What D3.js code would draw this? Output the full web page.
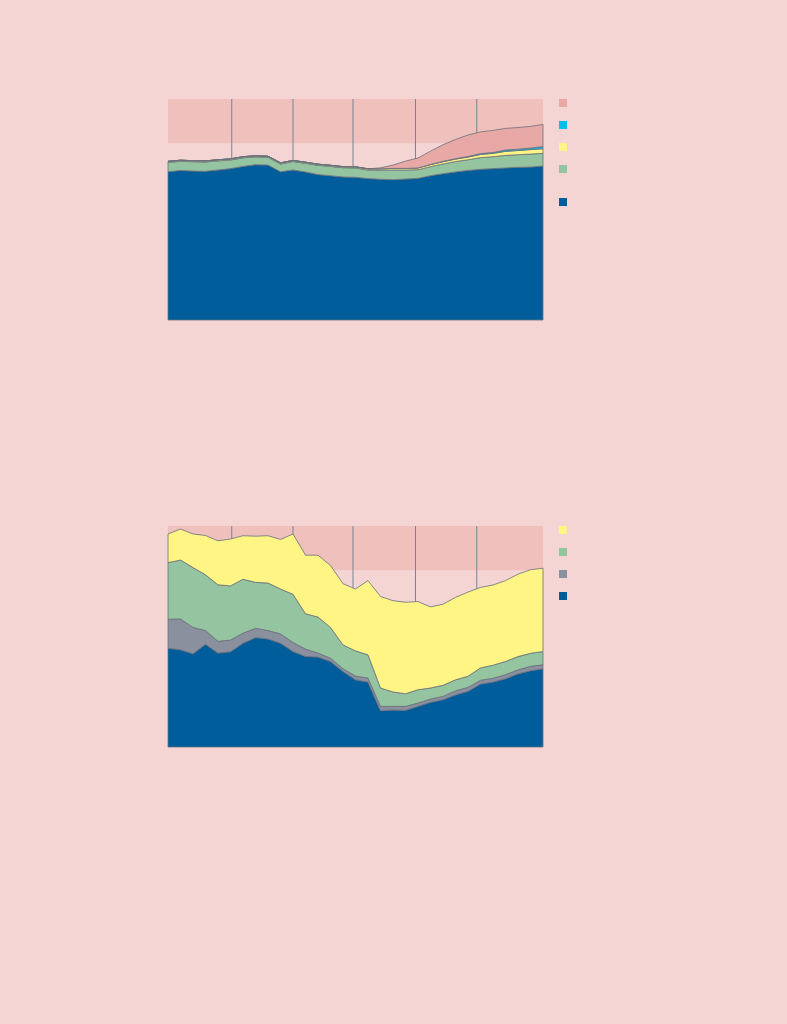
<!DOCTYPE html>
<html>
<head>
    <title>Stacked areas</title>
    <script src="https://cdnjs.cloudflare.com/ajax/libs/d3/7.8.5/d3.min.js"></script>
    <style>
        body { margin: 0; background: #f4d5d3; }
        svg { display: block; }
    </style>
</head>
<body>
<div id="chart"></div>
<script>
// ---------------- DATA ----------------
var years = d3.range(1980, 2011);
// grid lines sit a touch left of the data years in the original
var gridYears = [1985.1, 1990.0, 1994.8, 1999.8, 2004.7];

// chart 1 (shares, %)
var top1Blue   = [67.1,67.7,67.4,67.3,67.9,68.5,69.5,70.3,70.1,67.1,67.9,67.0,65.8,65.3,64.7,64.6,64.0,63.7,63.5,63.8,64.1,65.3,66.2,67.0,67.7,68.2,68.5,68.8,69.1,69.2,69.7];
var top1Green  = [4.2,4.1,4.2,4.2,4.1,3.9,3.9,3.5,3.5,3.5,3.8,3.9,4.2,4.2,4.2,4.2,3.8,4.1,4.4,4.1,3.9,4.1,4.4,4.7,4.8,5.3,5.4,5.7,5.7,5.9,5.7];
var top1Yellow = [0.5,0.5,0.5,0.5,0.5,0.5,0.5,0.5,0.5,0.5,0.5,0.5,0.5,0.5,0.5,0.5,0.6,0.6,0.7,0.7,0.8,0.9,1.0,1.1,1.2,1.4,1.5,1.8,1.9,2.0,2.1];
var top1Cyan   = [0,0,0,0,0,0,0,0,0,0,0,0,0,0,0,0,0,0,0,0,0,0.1,0.2,0.2,0.3,0.4,0.4,0.6,0.6,0.7,1.0];
var top1Pink   = [0,0,0,0,0,0,0,0,0,0,0,0,0,0,0,0,0,0.45,1.5,3.3,4.5,6.0,7.5,8.7,9.7,9.8,10.0,9.8,9.8,9.8,10.0];

// chart 2 (shares, %)
var top2Blue   = [44.7,44.0,42.2,46.5,42.5,43.1,47.0,49.5,48.9,47.0,43.2,41.0,40.7,38.7,34.2,30.4,29.4,16.4,16.7,16.6,18.4,20.2,21.4,23.6,25.2,28.5,29.4,30.9,33.1,34.5,35.4];
var top2Grey   = [13.1,13.9,11.9,6.2,5.3,5.3,4.5,4.2,3.8,4.2,4.1,3.3,1.8,1.5,1.2,1.7,1.8,2.0,1.7,1.8,1.5,1.5,1.5,1.8,1.8,1.7,1.7,1.8,1.8,2.0,1.8];
var top2Green  = [25.6,26.7,27.1,25.2,25.6,24.5,24.4,20.8,21.5,20.3,21.8,16.0,16.3,13.9,10.8,11.4,10.5,8.3,6.5,5.7,6.0,5.0,5.0,5.0,5.0,5.6,5.9,6.0,6.0,5.9,6.0];
var top2Yellow = [13.0,14.0,15.2,17.8,19.9,21.2,19.7,20.9,21.4,22.4,27.3,26.5,28.0,28.0,27.7,28.0,33.6,41.4,41.3,41.4,39.9,36.7,36.7,37.3,38.1,36.4,36.3,36.6,37.3,37.8,37.7];

var colors = {
    blue: "#005d9c", green: "#94c5a0", yellow: "#fff584",
    cyan: "#00bdef", pink: "#e8a9a6", grey: "#8a909e"
};

// ---------------- LAYOUT ----------------
var svg = d3.select("#chart").append("svg")
    .attr("width", 787)
    .attr("height", 1024);

svg.append("rect").attr("width", 787).attr("height", 1024).attr("fill", "#f4d5d3");

function drawPanel(top, keys, series, legendYs) {
    var left = 168, width = 375, height = 221;
    var g = svg.append("g").attr("transform", "translate(" + left + "," + top + ")");

    var x = d3.scaleLinear().domain([years[0], years[years.length - 1]]).range([0, width]);
    var y = d3.scaleLinear().domain([0, 100]).range([height, 0]);

    // darker band at the top of the plot
    g.append("rect")
        .attr("x", 0).attr("y", y(100))
        .attr("width", width).attr("height", y(80) - y(100))
        .attr("fill", "#f0c1bc");

    // vertical grid lines
    g.selectAll(".grid").data(gridYears).enter().append("line")
        .attr("x1", d => x(d)).attr("x2", d => x(d))
        .attr("y1", y(100)).attr("y2", y(0))
        .attr("stroke", "#7a8392").attr("stroke-width", 1);

    var rows = years.map(function (yr, i) {
        var r = { year: yr };
        keys.forEach(function (k) { r[k] = series[k][i]; });
        return r;
    });

    var stacked = d3.stack().keys(keys)(rows);
    var area = d3.area()
        .x(d => x(d.data.year))
        .y0(d => y(d[0]))
        .y1(d => y(d[1]));

    g.selectAll(".layer").data(stacked).enter().append("path")
        .attr("d", area)
        .attr("fill", d => colors[d.key])
        .attr("stroke", "#6a707c")
        .attr("stroke-width", 0.8)
        .attr("stroke-linejoin", "round");

    // legend squares (no labels)
    legendYs.forEach(function (ly) {
        svg.append("rect")
            .attr("x", 559).attr("y", ly[1])
            .attr("width", 8).attr("height", 8)
            .attr("fill", colors[ly[0]]);
    });
}

drawPanel(99, ["blue", "green", "yellow", "cyan", "pink"],
    { blue: top1Blue, green: top1Green, yellow: top1Yellow, cyan: top1Cyan, pink: top1Pink },
    [["pink", 99], ["cyan", 121], ["yellow", 143], ["green", 165], ["blue", 198]]);

drawPanel(526, ["blue", "grey", "green", "yellow"],
    { blue: top2Blue, grey: top2Grey, green: top2Green, yellow: top2Yellow },
    [["yellow", 526], ["green", 548], ["grey", 570], ["blue", 592]]);
</script>
</body>
</html>
